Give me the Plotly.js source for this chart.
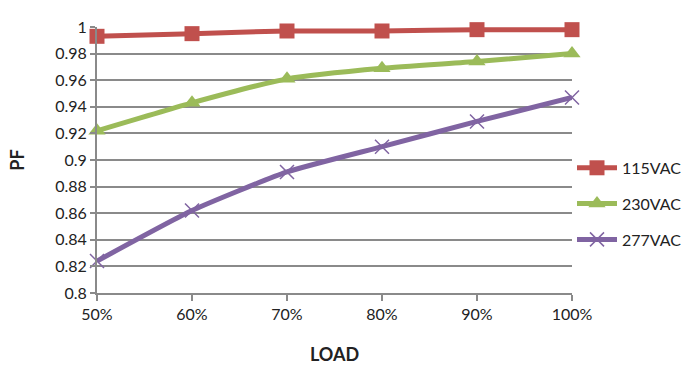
<!DOCTYPE html>
<html>
<head>
<meta charset="utf-8">
<script src="https://cdn.plot.ly/plotly-3.0.1.min.js"></script>
<style>html,body{margin:0;padding:0;background:#fff}#chart{width:695px;height:384px}</style>
</head>
<body>
<div id="chart"></div>
<script>
const categories = ['50%', '60%', '70%', '80%', '90%', '100%'];
const seriesNames = ['115VAC', '230VAC', '277VAC'];
const pf115 = [0.993, 0.995, 0.997, 0.997, 0.998, 0.998];
const pf230 = [0.922, 0.943, 0.961, 0.969, 0.974, 0.980];
const pf277 = [0.824, 0.862, 0.891, 0.910, 0.929, 0.947];
const yTicks = [0.8, 0.82, 0.84, 0.86, 0.88, 0.9, 0.92, 0.94, 0.96, 0.98, 1];
const yTickText = ['0.8', '0.82', '0.84', '0.86', '0.88', '0.9', '0.92', '0.94', '0.96', '0.98', '1'];

const colors = ['#C0504D', '#9BBB59', '#8064A2'];
const symbols = ['square', 'triangle-up', 'x-thin'];
const values = [pf115, pf230, pf277];

const traces = values.map((v, i) => ({
  type: 'scatter',
  mode: 'lines+markers',
  x: categories,
  y: v,
  name: seriesNames[i],
  legendgroup: 'g' + i,
  cliponaxis: false,
  line: {color: colors[i], width: 5, shape: 'spline', smoothing: 0.5},
  marker: i === 2
    ? {symbol: symbols[i], size: 14, color: colors[i], line: {color: colors[i], width: 1.5}}
    : {symbol: symbols[i], size: 15, color: colors[i]}
}));

const font = 'Lato, "Open Sans", sans-serif';
const layout = {
  width: 695, height: 384,
  margin: {l: 97, r: 123, t: 27, b: 91, autoexpand: false},
  paper_bgcolor: '#fff', plot_bgcolor: '#fff',
  font: {family: font, size: 15, color: '#222'},
  showlegend: true,
  legend: {
    x: 1.0, xanchor: 'left', y: 0.335, yanchor: 'middle',
    font: {size: 16, family: font, color: '#222'},
    tracegroupgap: 12, itemwidth: 40
  },
  xaxis: {
    type: 'category', range: [0, 5],
    showgrid: false, showline: true, linecolor: '#8a8a8a', linewidth: 2,
    ticks: 'outside', ticklen: 6, tickcolor: '#8a8a8a', tickwidth: 2,
    tickfont: {size: 16, family: font, color: '#222'},
    title: {text: '<b>LOAD</b>', font: {size: 18, family: font, color: '#222'}, standoff: 26},
    zeroline: false, fixedrange: true
  },
  yaxis: {
    range: [0.8, 1], tickvals: yTicks, ticktext: yTickText,
    showgrid: true, gridcolor: '#8a8a8a', gridwidth: 2,
    showline: true, linecolor: '#8a8a8a', linewidth: 2,
    ticks: 'outside', ticklen: 5, tickcolor: '#8a8a8a', tickwidth: 2,
    tickfont: {size: 16, family: font, color: '#222'},
    title: {text: '<b>PF</b>', font: {size: 18, family: font, color: '#222'}, standoff: 26},
    zeroline: false, fixedrange: true
  }
};

Plotly.newPlot('chart', traces, layout, {displayModeBar: false, staticPlot: true});
</script>
</body>
</html>
